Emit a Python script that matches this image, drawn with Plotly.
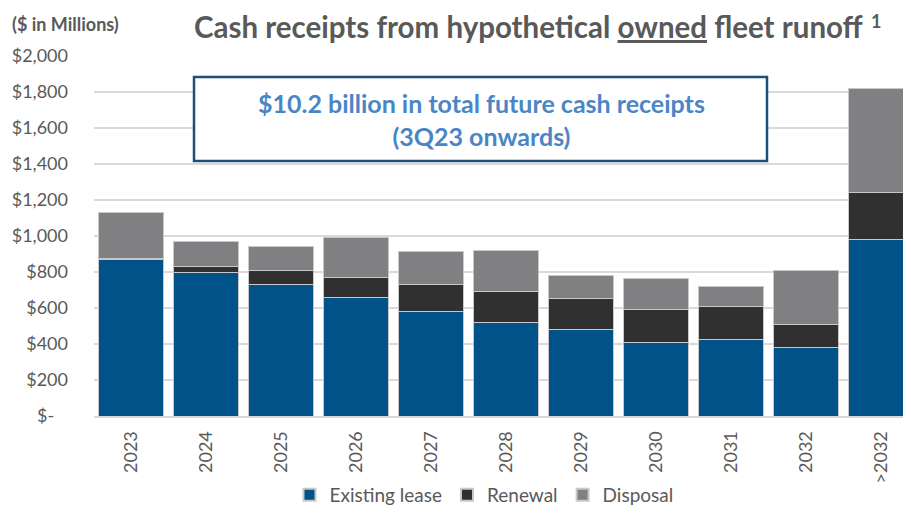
import plotly.graph_objects as go

years = ["2023", "2024", "2025", "2026", "2027", "2028", "2029", "2030", "2031", "2032", ">2032"]
existing_lease = [867, 798, 731, 659, 581, 522, 482, 411, 426, 378, 979]
renewal = [7, 32, 76, 113, 152, 167, 170, 183, 180, 133, 260]
disposal = [255, 140, 132, 221, 182, 228, 126, 171, 111, 298, 578]

y_tick_vals = [0, 200, 400, 600, 800, 1000, 1200, 1400, 1600, 1800, 2000]
y_tick_text = ["$-\u00a0\u00a0\u00a0", "$200", "$400", "$600", "$800", "$1,000", "$1,200",
               "$1,400", "$1,600", "$1,800", "$2,000"]

FONT = "Lato, Open Sans, sans-serif"
GRAY = "#595959"
# The page body has an 8px margin, so the figure is drawn 8px in from the window corner.
OFF = 8
W, H = 911 - OFF, 506 - OFF
PLOT_L, PLOT_R, PLOT_T, PLOT_B = 94, 911, 56, 416  # window pixels
L, R, T, B = PLOT_L - OFF, 0, PLOT_T - OFF, (H + OFF) - PLOT_B
PW = PLOT_R - PLOT_L
PH = PLOT_B - PLOT_T


def px_x(p):
    return (p - PLOT_L) / PW


def px_y(p):
    return (PLOT_B - p) / PH


fig = go.Figure()
series = [
    ("Existing lease", existing_lease, "#005288"),
    ("Renewal", renewal, "#303030"),
    ("Disposal", disposal, "#808083"),
]
for name, vals, col in series:
    fig.add_trace(go.Bar(
        x=years, y=vals, name=name,
        marker=dict(color=col, line=dict(color="#c8c8c8", width=1)),
    ))

fig.update_layout(
    width=W, height=H,
    margin=dict(l=L, r=R, t=T, b=B, autoexpand=False),
    barmode="stack", bargap=0.133,
    plot_bgcolor="white", paper_bgcolor="white",
    font=dict(family=FONT, color=GRAY, size=17),
    showlegend=True,
    legend=dict(
        orientation="h", x=px_x(484), xanchor="center",
        y=px_y(495), yanchor="middle",
        font=dict(size=19, color=GRAY, family=FONT),
        itemsizing="constant", traceorder="normal",
        itemwidth=30, tracegroupgap=0,
    ),
    xaxis=dict(
        range=[-0.5, 10.4], tickangle=-90, automargin=False,
        showgrid=False, showline=True, linecolor="#d9d9d9", linewidth=2,
        tickfont=dict(size=18, color=GRAY, family=FONT),
        ticklabelstandoff=6, fixedrange=True,
    ),
    yaxis=dict(
        range=[0, 2000], tickvals=y_tick_vals, ticktext=y_tick_text, automargin=False,
        showgrid=True, gridcolor="#d9d9d9", gridwidth=2,
        zeroline=False, showline=False,
        tickfont=dict(size=18, color=GRAY, family=FONT),
        ticklabelstandoff=25, fixedrange=True,
    ),
)

fig.add_shape(
    type="rect", xref="paper", yref="paper",
    x0=px_x(194), x1=px_x(767), y0=px_y(161), y1=px_y(77),
    fillcolor="white", line=dict(color="#1f4e79", width=2.5), layer="above",
)
fig.add_annotation(
    xref="paper", yref="paper", x=px_x(481), y=px_y(119),
    xanchor="center", yanchor="middle", showarrow=False,
    text="<b>$10.2 billion in total future cash receipts<br>(3Q23 onwards)</b>",
    font=dict(size=25, color="#4a86c5", family=FONT), align="center",
)
fig.add_annotation(
    xref="paper", yref="paper", x=px_x(192), y=px_y(26),
    xanchor="left", yanchor="middle", showarrow=False,
    text="<b>Cash receipts from hypothetical <u>owned</u> fleet runoff</b>",
    font=dict(size=29.5, color=GRAY, family=FONT),
)
fig.add_annotation(
    xref="paper", yref="paper", x=px_x(869), y=px_y(21),
    xanchor="left", yanchor="middle", showarrow=False,
    text="<b>1</b>",
    font=dict(size=18, color=GRAY, family=FONT),
)
fig.add_annotation(
    xref="paper", yref="paper", x=px_x(10), y=px_y(24),
    xanchor="left", yanchor="middle", showarrow=False,
    text="<b>($ in Millions)</b>",
    font=dict(size=18, color=GRAY, family=FONT),
)

fig.write_html("out.html")
